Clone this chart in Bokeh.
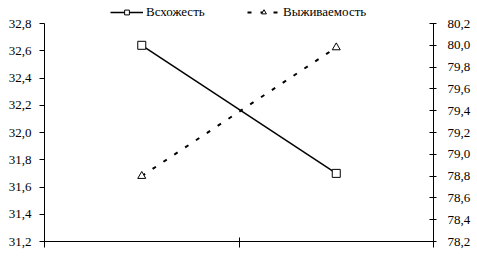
from bokeh.plotting import figure
from bokeh.models import (Range1d, LinearAxis, FixedTicker, CustomJSTickFormatter,
                          Legend, LegendItem, ColumnDataSource)
from bokeh.embed import file_html
from bokeh.resources import INLINE

# Data
categories = ["1", "2"]
germination = [32.64, 31.70]      # left axis
survival = [78.80, 79.98]         # right axis
left_ticks = [31.2, 31.4, 31.6, 31.8, 32.0, 32.2, 32.4, 32.6, 32.8]
right_ticks = [78.2, 78.4, 78.6, 78.8, 79.0, 79.2, 79.4, 79.6, 79.8, 80.0, 80.2]

FONT = "serif"
xs = [i + 0.5 for i in range(len(categories))]

# the frame reaches to the top of the canvas; the axes only cover the lower part,
# leaving a strip above them for the legend
PLOT_PX = 218
TOP_PX = 23


def padded(ticks):
    lo, hi = ticks[0], ticks[-1]
    return Range1d(lo, hi + (hi - lo) * TOP_PX / PLOT_PX)


src = ColumnDataSource(dict(x=xs, g=germination, s=survival))

p = figure(width=477, height=262, output_backend="svg", toolbar_location=None,
           x_range=Range1d(0, len(categories)),
           y_range=padded(left_ticks),
           min_border_left=44, min_border_right=44,
           min_border_top=0, min_border_bottom=21,
           frame_width=389, frame_height=PLOT_PX + TOP_PX)
p.extra_y_ranges = {"right": padded(right_ticks)}

p.grid.visible = False
p.outline_line_color = None
p.background_fill_color = "white"
p.border_fill_color = "white"

fmt = CustomJSTickFormatter(code="return tick.toFixed(1).replace('.', ',');")

# bottom axis: category separators, no labels
xa = p.xaxis[0]
xa.ticker = FixedTicker(ticks=list(range(len(categories) + 1)))
xa.major_label_text_font_size = "0px"
xa.major_label_text_color = None
xa.major_tick_in = 4
xa.major_tick_out = 6
xa.minor_tick_line_color = None
xa.axis_line_color = "black"
xa.major_tick_line_color = "black"

ya = p.yaxis[0]
ya.bounds = (left_ticks[0], left_ticks[-1])
ya.ticker = FixedTicker(ticks=left_ticks)
ya.formatter = fmt
ya.major_tick_in = 0
ya.major_tick_out = 5
ya.minor_tick_line_color = None
ya.major_label_standoff = 8
ya.major_label_text_font = FONT
ya.major_label_text_font_size = "13px"
ya.major_label_text_color = "black"
ya.axis_line_color = "black"
ya.major_tick_line_color = "black"

ra = LinearAxis(y_range_name="right", ticker=FixedTicker(ticks=right_ticks),
                formatter=fmt, bounds=(right_ticks[0], right_ticks[-1]))
ra.major_tick_in = 4
ra.major_tick_out = 3
ra.minor_tick_line_color = None
ra.major_label_standoff = 11
ra.major_label_text_font = FONT
ra.major_label_text_font_size = "13px"
ra.major_label_text_color = "black"
ra.axis_line_color = "black"
ra.major_tick_line_color = "black"
p.add_layout(ra, "right")

# series
l1 = p.line("x", "g", source=src, line_color="black", line_width=1.5)
m1 = p.scatter("x", "g", source=src, marker="square", size=8,
               fill_color="white", line_color="black", line_width=1)
l2 = p.line("x", "s", source=src, y_range_name="right", line_color="black",
            line_width=2, line_dash="4 9")
m2 = p.scatter("x", "s", source=src, y_range_name="right", marker="triangle", size=8,
               fill_color="white", line_color="black", line_width=1)


def make_legend(label, renderers, loc):
    lg = Legend(items=[LegendItem(label=label, renderers=renderers)],
                location=loc, orientation="horizontal",
                border_line_color=None, background_fill_alpha=0,
                padding=0, margin=0, glyph_width=33, glyph_height=12,
                label_height=12, label_standoff=3,
                label_text_font=FONT, label_text_font_size="13px",
                label_text_color="black")
    p.add_layout(lg, "center")
    return lg


make_legend("Всхожесть", [l1, m1], (66, 221))
make_legend("Выживаемость", [l2, m2], (203, 221))

open("out.html", "w").write(file_html(p, INLINE))
